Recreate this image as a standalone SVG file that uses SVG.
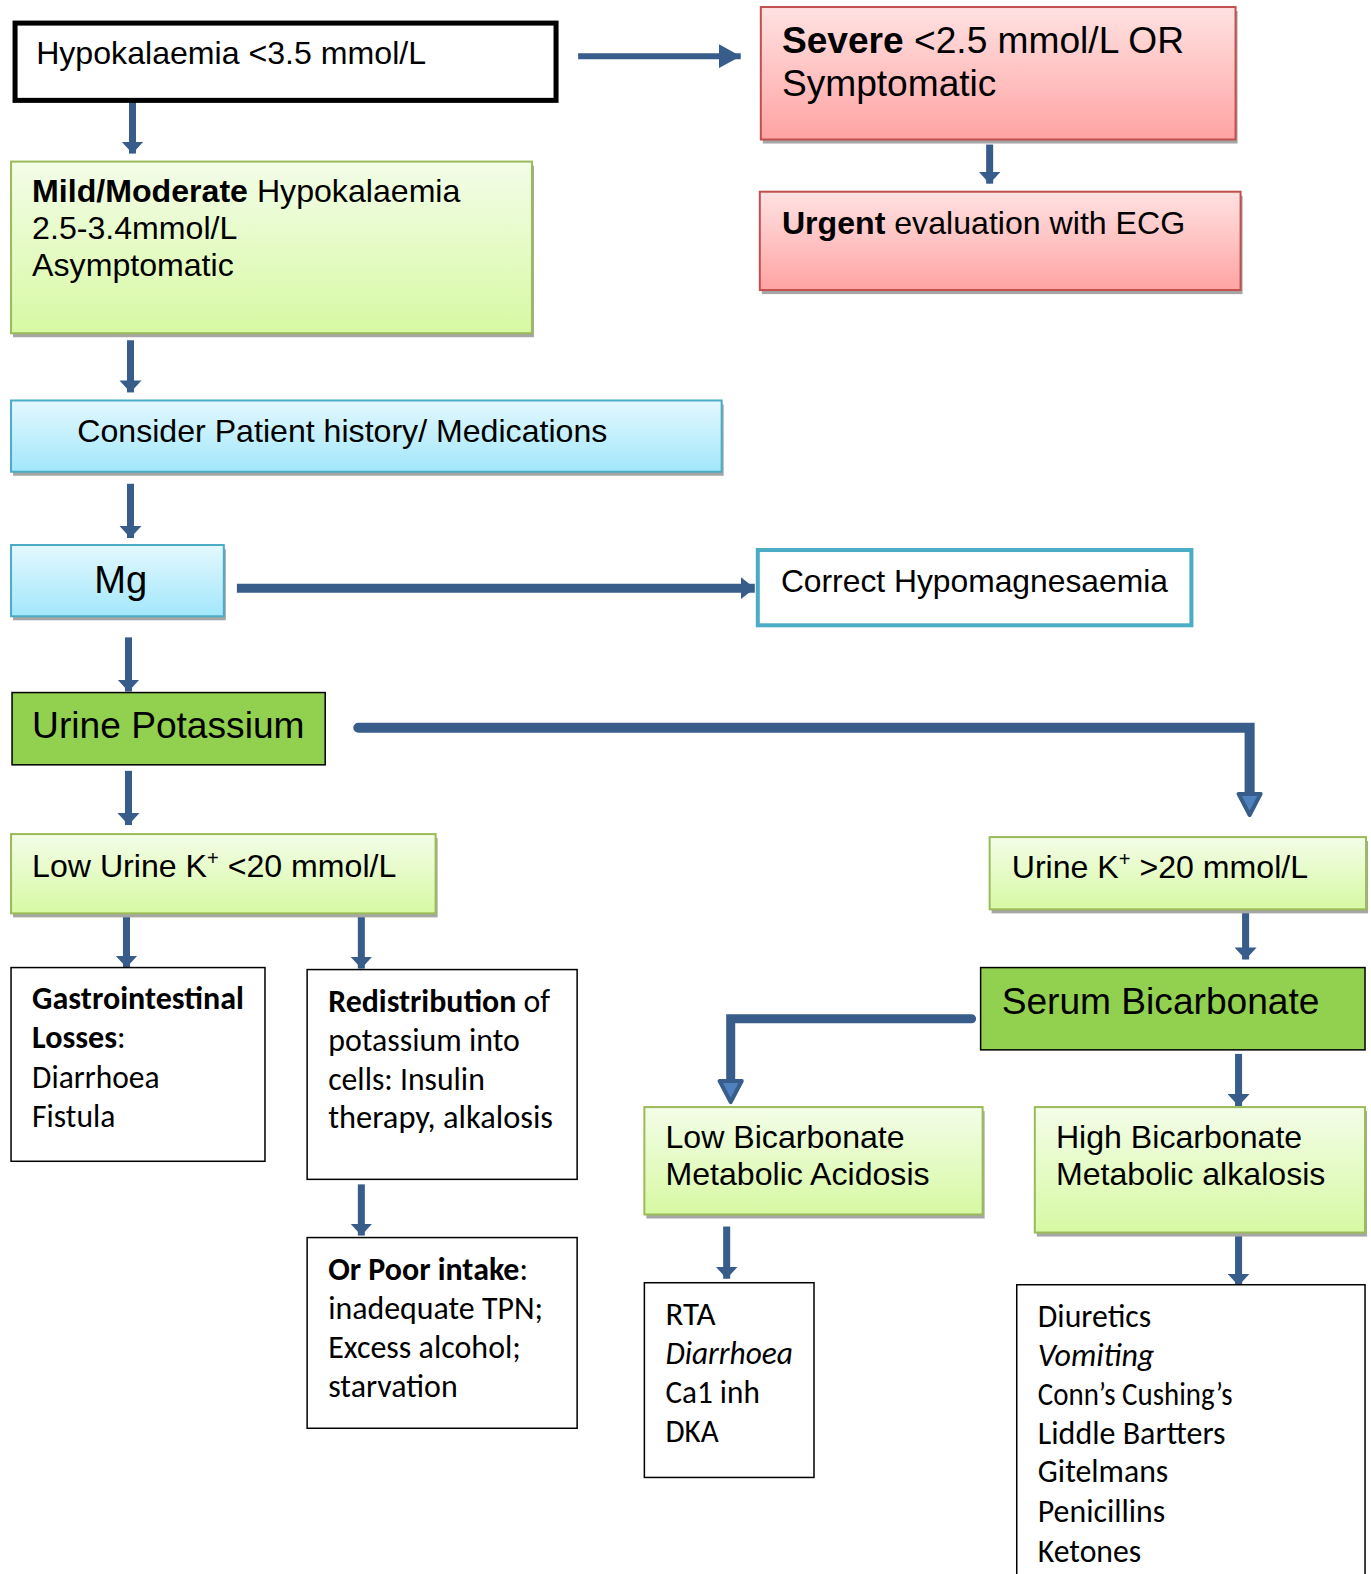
<svg xmlns="http://www.w3.org/2000/svg" width="1371" height="1574" viewBox="0 0 1371 1574">
<style>
.a{font-family:"Liberation Sans",Arial,sans-serif;fill:#000}
.s32{font-size:32px}
.s37{font-size:37px}
.b{font-weight:bold}
.cal{font-family:Carlito,Lato,"Open Sans",sans-serif;font-size:32px;fill:#000}
.it{font-style:italic}
.gl{fill:url(#gGreen);stroke:#9BBB59;stroke-width:2}
.bl{fill:url(#gBlue);stroke:#4BACC6;stroke-width:2}
.rd{fill:url(#gRed);stroke:#C0504D;stroke-width:2}
.sg{fill:#92D050;stroke:#000;stroke-width:1.5}
.wb{fill:#fff;stroke:#000;stroke-width:1.5}
.sh{fill:#A6A6A6}
.ar{stroke:#385D8A;fill:none}
</style>
<defs>
<linearGradient id="gGreen" x1="0" y1="0" x2="0" y2="1"><stop offset="0" stop-color="#F3FDE8"/><stop offset="1" stop-color="#D7F9A3"/></linearGradient>
<linearGradient id="gBlue" x1="0" y1="0" x2="0" y2="1"><stop offset="0" stop-color="#E3F8FE"/><stop offset="1" stop-color="#A2E7FB"/></linearGradient>
<linearGradient id="gRed" x1="0" y1="0" x2="0" y2="1"><stop offset="0" stop-color="#FFE2E2"/><stop offset="1" stop-color="#FFA3A3"/></linearGradient>
<marker id="ah" markerUnits="userSpaceOnUse" markerWidth="12" markerHeight="22" refX="12" refY="11" orient="auto"><path d="M0,0 L12,11 L0,22 z" fill="#385D8A"/></marker>
<marker id="ahL" markerUnits="userSpaceOnUse" markerWidth="22" markerHeight="24" refX="22" refY="12" orient="auto"><path d="M0,0 L22,12 L0,24 z" fill="#385D8A"/></marker>
<marker id="ahM" markerUnits="userSpaceOnUse" markerWidth="14" markerHeight="22" refX="14" refY="11" orient="auto"><path d="M0,0 L14,11 L0,22 z" fill="#385D8A"/></marker>
<marker id="ahO" markerUnits="userSpaceOnUse" markerWidth="26" markerHeight="28" refX="2" refY="14" orient="auto"><path d="M2,3 L23,14 L2,25 z" fill="#4F81BD" stroke="#385D8A" stroke-width="4" stroke-linejoin="round"/></marker>
</defs>
<g transform="scale(1.0037)">
<g id="connectors">
<line class="ar" x1="576" y1="56" x2="738" y2="56" stroke-width="6" marker-end="url(#ahL)"/>
<line class="ar" x1="132" y1="101" x2="132" y2="153" stroke-width="7" marker-end="url(#ah)"/>
<line class="ar" x1="986" y1="144" x2="986" y2="183" stroke-width="7" marker-end="url(#ah)"/>
<line class="ar" x1="130" y1="339" x2="130" y2="391" stroke-width="7" marker-end="url(#ah)"/>
<line class="ar" x1="130" y1="482" x2="130" y2="536" stroke-width="7" marker-end="url(#ah)"/>
<line class="ar" x1="236" y1="586" x2="752" y2="586" stroke-width="9" marker-end="url(#ahM)"/>
<line class="ar" x1="128" y1="635" x2="128" y2="689" stroke-width="7" marker-end="url(#ah)"/>
<path class="ar" d="M357,725 H1245 V791" stroke-width="10" stroke-linecap="round" marker-end="url(#ahO)"/>
<line class="ar" x1="128" y1="768" x2="128" y2="822" stroke-width="7" marker-end="url(#ah)"/>
<line class="ar" x1="126" y1="912" x2="126" y2="964" stroke-width="7" marker-end="url(#ah)"/>
<line class="ar" x1="360" y1="912" x2="360" y2="965" stroke-width="7" marker-end="url(#ah)"/>
<line class="ar" x1="360" y1="1180" x2="360" y2="1231" stroke-width="7" marker-end="url(#ah)"/>
<line class="ar" x1="1241" y1="906" x2="1241" y2="956" stroke-width="7" marker-end="url(#ah)"/>
<path class="ar" d="M968,1015 H728 V1077" stroke-width="9" stroke-linecap="round" marker-end="url(#ahO)"/>
<line class="ar" x1="1234" y1="1050" x2="1234" y2="1102" stroke-width="7" marker-end="url(#ah)"/>
<line class="ar" x1="724" y1="1222" x2="724" y2="1274" stroke-width="7" marker-end="url(#ah)"/>
<line class="ar" x1="1234" y1="1230" x2="1234" y2="1281" stroke-width="7" marker-end="url(#ah)"/>
</g>
<g id="n-hypo">
<rect x="15" y="23" width="539" height="77" fill="#fff" stroke="#000" stroke-width="5"/>
<text class="a s32" x="36" y="64">Hypokalaemia &lt;3.5 mmol/L</text>
</g>
<g id="n-severe">
<rect class="sh" x="760" y="11" width="473" height="132"/>
<rect class="rd" x="758" y="7" width="473" height="132"/>
<text class="a s37" x="779" y="53"><tspan class="b">Severe</tspan> &lt;2.5 mmol/L OR</text>
<text class="a s37" x="779" y="96">Symptomatic</text>
</g>
<g id="n-urgent">
<rect class="sh" x="759" y="195" width="479" height="98"/>
<rect class="rd" x="757" y="191" width="479" height="98"/>
<text class="a s32" x="779" y="233"><tspan class="b">Urgent</tspan> evaluation with ECG</text>
</g>
<g id="n-mild">
<rect class="sh" x="13" y="165" width="519" height="171"/>
<rect class="gl" x="11" y="161" width="519" height="171"/>
<text class="a s32" x="32" y="201"><tspan class="b">Mild/Moderate</tspan> Hypokalaemia</text>
<text class="a s32" x="32" y="238">2.5-3.4mmol/L</text>
<text class="a s32" x="32" y="275">Asymptomatic</text>
</g>
<g id="n-consider">
<rect class="sh" x="13" y="403" width="708" height="71"/>
<rect class="bl" x="11" y="399" width="708" height="71"/>
<text class="a s32" x="77" y="440">Consider Patient history/ Medications</text>
</g>
<g id="n-mg">
<rect class="sh" x="13" y="547" width="212" height="71"/>
<rect class="bl" x="11" y="543" width="212" height="71"/>
<text class="a" x="94" y="591" font-size="38">Mg</text>
</g>
<g id="n-correct">
<rect x="755" y="548" width="432" height="75" fill="#fff" stroke="#4BACC6" stroke-width="4"/>
<text class="a" x="778" y="590" font-size="31.7">Correct Hypomagnesaemia</text>
</g>
<g id="n-urinek">
<rect class="sg" x="12" y="690" width="312" height="72"/>
<text class="a s37" x="32" y="735">Urine Potassium</text>
</g>
<g id="n-lowurine">
<rect class="sh" x="13" y="835" width="423" height="79"/>
<rect class="gl" x="11" y="831" width="423" height="79"/>
<text class="a s32" x="32" y="874">Low Urine K<tspan dy="-12" font-size="20">+</tspan><tspan dy="12"> &lt;20 mmol/L</tspan></text>
</g>
<g id="n-highurine">
<rect class="sh" x="988" y="838" width="375" height="72"/>
<rect class="gl" x="986" y="834" width="375" height="72"/>
<text class="a s32" x="1008" y="875">Urine K<tspan dy="-12" font-size="20">+</tspan><tspan dy="12"> &gt;20 mmol/L</tspan></text>
</g>
<g id="n-serum">
<rect class="sg" x="977" y="964" width="383" height="82"/>
<text class="a s37" x="998" y="1010">Serum Bicarbonate</text>
</g>
<g id="n-lowbicarb">
<rect class="sh" x="644" y="1107" width="337" height="107"/>
<rect class="gl" x="642" y="1103" width="337" height="107"/>
<text class="a s32" x="663" y="1144">Low Bicarbonate</text>
<text class="a s32" x="663" y="1181">Metabolic Acidosis</text>
</g>
<g id="n-highbicarb">
<rect class="sh" x="1033" y="1107" width="329" height="125"/>
<rect class="gl" x="1031" y="1103" width="329" height="125"/>
<text class="a s32" x="1052" y="1144">High Bicarbonate</text>
<text class="a s32" x="1052" y="1181">Metabolic alkalosis</text>
</g>
<g id="n-gastro">
<rect class="wb" x="11" y="964" width="253" height="193"/>
<text class="cal b" x="32" y="1005" textLength="211" lengthAdjust="spacingAndGlyphs">Gastrointestinal</text>
<text class="cal" x="32" y="1044"><tspan class="b">Losses</tspan>:</text>
<text class="cal" x="32" y="1084" textLength="127" lengthAdjust="spacingAndGlyphs">Diarrhoea</text>
<text class="cal" x="32" y="1123" textLength="83" lengthAdjust="spacingAndGlyphs">Fistula</text>
</g>
<g id="n-redist">
<rect class="wb" x="306" y="966" width="269" height="209"/>
<text class="cal" x="327" y="1008" textLength="221" lengthAdjust="spacingAndGlyphs"><tspan class="b">Redistribution</tspan> of</text>
<text class="cal" x="327" y="1047" textLength="191" lengthAdjust="spacingAndGlyphs">potassium into</text>
<text class="cal" x="327" y="1086" textLength="156" lengthAdjust="spacingAndGlyphs">cells: Insulin</text>
<text class="cal" x="327" y="1124" textLength="224" lengthAdjust="spacingAndGlyphs">therapy, alkalosis</text>
</g>
<g id="n-poor">
<rect class="wb" x="306" y="1233" width="269" height="190"/>
<text class="cal" x="327" y="1275" textLength="199" lengthAdjust="spacingAndGlyphs"><tspan class="b">Or Poor intake</tspan>:</text>
<text class="cal" x="327" y="1314" textLength="214" lengthAdjust="spacingAndGlyphs">inadequate TPN;</text>
<text class="cal" x="327" y="1353" textLength="192" lengthAdjust="spacingAndGlyphs">Excess alcohol;</text>
<text class="cal" x="327" y="1392" textLength="129" lengthAdjust="spacingAndGlyphs">starvation</text>
</g>
<g id="n-rta">
<rect class="wb" x="642" y="1278" width="169" height="194"/>
<text class="cal" x="663" y="1320" textLength="50" lengthAdjust="spacingAndGlyphs">RTA</text>
<text class="cal it" x="663" y="1359" textLength="127" lengthAdjust="spacingAndGlyphs">Diarrhoea</text>
<text class="cal" x="663" y="1398" textLength="94" lengthAdjust="spacingAndGlyphs">Ca1 inh</text>
<text class="cal" x="663" y="1437" textLength="53" lengthAdjust="spacingAndGlyphs">DKA</text>
</g>
<g id="n-diuretics">
<rect class="wb" x="1013" y="1280" width="347" height="320"/>
<text class="cal" x="1034" y="1322" textLength="113" lengthAdjust="spacingAndGlyphs">Diuretics</text>
<text class="cal it" x="1034" y="1361" textLength="116" lengthAdjust="spacingAndGlyphs">Vomiting</text>
<text class="cal" x="1034" y="1400" font-size="30" textLength="194" lengthAdjust="spacingAndGlyphs">Conn’s Cushing’s</text>
<text class="cal" x="1034" y="1439" textLength="187" lengthAdjust="spacingAndGlyphs">Liddle Bartters</text>
<text class="cal" x="1034" y="1477" textLength="130" lengthAdjust="spacingAndGlyphs">Gitelmans</text>
<text class="cal" x="1034" y="1516" textLength="127" lengthAdjust="spacingAndGlyphs">Penicillins</text>
<text class="cal" x="1034" y="1556" textLength="103" lengthAdjust="spacingAndGlyphs">Ketones</text>
</g>
</g>
</svg>
